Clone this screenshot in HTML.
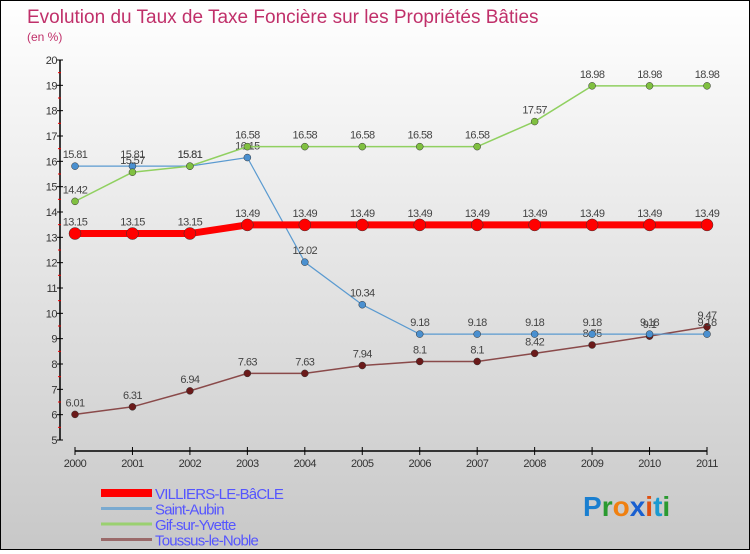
<!DOCTYPE html>
<html><head><meta charset="utf-8"><style>
body{margin:0}
#c{width:748px;height:548px;border:1px solid #000;background:linear-gradient(#fff,#c8c8c8);position:relative;font-family:"Liberation Sans",sans-serif}
</style></head><body>
<div id="c">
<svg id="s" width="748" height="548"></svg>
</div>
<script>
const years=["2000","2001","2002","2003","2004","2005","2006","2007","2008","2009","2010","2011"];
const villiers=[13.15,13.15,13.15,13.49,13.49,13.49,13.49,13.49,13.49,13.49,13.49,13.49];
const aubin=[15.81,15.81,15.81,16.15,12.02,10.34,9.18,9.18,9.18,9.18,9.18,9.18];
const gif=[14.42,15.57,15.81,16.58,16.58,16.58,16.58,16.58,17.57,18.98,18.98,18.98];
const toussus=[6.01,6.31,6.94,7.63,7.63,7.94,8.1,8.1,8.42,8.75,9.1,9.47];
const yTicks=[5,6,7,8,9,10,11,12,13,14,15,16,17,18,19,20];
const NS="http://www.w3.org/2000/svg";
const s=document.getElementById('s');
function X(i){return 74+i*(632/11);}
function Y(v){return 439-(v-5)*(380/15);}
function el(t,a,p){const e=document.createElementNS(NS,t);for(const k in a)e.setAttribute(k,a[k]);(p||s).appendChild(e);return e;}
function tx(x,y,str,a){const e=el('text',Object.assign({x:x,y:y},a));e.textContent=str;return e;}
let t=tx(26,22,"Evolution du Taux de Taxe Foncière sur les Propriétés Bâties",{fill:"#c0306a","font-size":19});

t=tx(26,40,"(en %)",{fill:"#c0306a","font-size":12});

let a=el('line',{x1:59,y1:Y(20),x2:59,y2:Y(5),stroke:"#000","stroke-width":1.5});

yTicks.forEach((v,i)=>{el('line',{x1:56,y1:Y(v),x2:62,y2:Y(v),stroke:"#000"});
 if(i<yTicks.length-1)el('line',{x1:57,y1:Y(v+0.5),x2:60,y2:Y(v+0.5),stroke:"#e00"});
 const l=tx(56,Y(v)+4,String(v),{fill:"#333","font-size":11,"text-anchor":"end","letter-spacing":"-0.5"});
 });
a=el('line',{x1:X(0),y1:450,x2:X(11),y2:450,stroke:"#000","stroke-width":1.5});

years.forEach((y,i)=>{el('line',{x1:X(i),y1:446,x2:X(i),y2:454,stroke:"#000"});
 const l=tx(X(i),466,y,{fill:"#333","font-size":11,"text-anchor":"middle","letter-spacing":"-0.5"});
 });
function series(d,col,w,r,name,fill){
 const g=el('g',{});
 el('polyline',{points:d.map((v,i)=>X(i)+','+Y(v)).join(' '),fill:'none',stroke:col,'stroke-width':w},g);
 d.forEach((v,i)=>{const c=el('circle',{cx:X(i),cy:Y(v),r:r,fill:fill,stroke:'#333','stroke-width':0.5},g);
  
  tx(X(i),Y(v)-8,String(v),{fill:"#444","font-size":11,"text-anchor":"middle","letter-spacing":"-0.6"},g);});
}
series(toussus,"#8a4a4a",1.5,3.5,"series-toussus","#6b1a1a");
series(aubin,"#5a9ad0",1.2,3.5,"series-saint-aubin","#4a90d0");
series(gif,"#90d060",1.5,3.5,"series-gif","#80c040");
series(villiers,"#f00",7,6,"series-villiers","#f00");
const leg=[["VILLIERS-LE-BâCLE","#f00",8],["Saint-Aubin","#7aaad0",3],["Gif-sur-Yvette","#9ad070",3],["Toussus-le-Noble","#9a6a6a",3]];
leg.forEach((l,i)=>{const g=el('g',{});
 const y=492+i*15.5;el('line',{x1:100,y1:y,x2:151,y2:y,stroke:l[1],'stroke-width':l[2]},g);
 tx(154,y+6,l[0],{fill:"#55f","font-size":15,"letter-spacing":"-0.8"},g);});
const lg=el('text',{x:582,y:515,"font-size":28,"font-weight":"bold"});
[["P","#1a7fd0"],["r","#2a9a30"],["o","#f08010"],["x","#1a60d0"],["i","#e05010"],["t","#1a9ad0"],["i","#2a9a30"]].forEach(c=>{const sp=el('tspan',{fill:c[1]},lg);sp.textContent=c[0];});
</script>
</body></html>
